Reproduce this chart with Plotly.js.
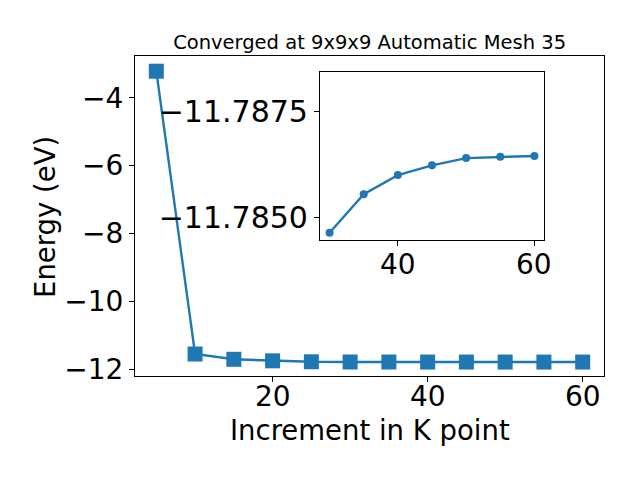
<!DOCTYPE html>
<html>
<head>
<meta charset="utf-8">
<script src="https://cdn.plot.ly/plotly-3.0.1.min.js"></script>
<style>html,body{margin:0;padding:0;background:#fff;}#chart{width:640px;height:480px;}</style>
</head>
<body>
<div id="chart"></div>
<script>
// Main series: k-point increment vs total energy
var kPoints = [5, 10, 15, 20, 25, 30, 35, 40, 45, 50, 55, 60];
var energies = [-3.22, -11.55, -11.705, -11.75, -11.778, -11.78465, -11.78556, -11.78601, -11.78624, -11.78641, -11.78644, -11.78646];

// Inset (zoomed) series
var insetK = [30, 35, 40, 45, 50, 55, 60];
var insetE = [-11.78465, -11.78556, -11.78601, -11.78624, -11.78641, -11.78644, -11.78646];

var mainYTicks = [-12, -10, -8, -6, -4];
var mainXTicks = [20, 40, 60];
var insetXTicks = [40, 60];
var insetYTicks = [-11.7875, -11.7850];

var titleText = 'Converged at 9x9x9 Automatic Mesh 35';
var xLabel = 'Increment in K point';
var yLabel = 'Energy (eV)';

var blue = '#1f77b4';
var fontFam = 'DejaVu Sans, sans-serif';

var traces = [
  {
    x: kPoints, y: energies, type: 'scatter', mode: 'lines+markers',
    line: {color: blue, width: 2.4},
    marker: {symbol: 'square', size: 15, color: blue},
    xaxis: 'x', yaxis: 'y', showlegend: false, hoverinfo: 'none'
  },
  {
    x: insetK, y: insetE, type: 'scatter', mode: 'lines+markers',
    line: {color: blue, width: 2.4},
    marker: {symbol: 'circle', size: 8, color: blue},
    xaxis: 'x2', yaxis: 'y2', showlegend: false, hoverinfo: 'none'
  }
];

function axisCommon(fs) {
  return {
    showgrid: false, zeroline: false, showline: true, linecolor: '#000', linewidth: 1.1,
    mirror: true, ticks: 'outside', ticklen: 5, tickwidth: 1.1, tickcolor: '#000',
    tickfont: {family: fontFam, size: fs, color: '#000'}
  };
}

var annotations = [];
mainXTicks.forEach(function (v) {
  annotations.push({xref: 'x', yref: 'paper', x: v, y: -0.0656, text: String(v),
    showarrow: false, xanchor: 'center', yanchor: 'middle',
    font: {family: fontFam, size: 28, color: '#000'}});
});
insetXTicks.forEach(function (v) {
  annotations.push({xref: 'x2', yref: 'paper', x: v, y: 0.35, text: String(v),
    showarrow: false, xanchor: 'center', yanchor: 'middle',
    font: {family: fontFam, size: 28, color: '#000'}});
});
annotations.push({xref: 'paper', yref: 'paper', x: 0.5, y: -0.169, text: xLabel,
  showarrow: false, xanchor: 'center', yanchor: 'middle',
  font: {family: fontFam, size: 27.5, color: '#000'}});
annotations.push({xref: 'paper', yref: 'paper', x: -0.1919, y: 0.497, text: yLabel,
  showarrow: false, xanchor: 'center', yanchor: 'middle', textangle: -90,
  font: {family: fontFam, size: 27.5, color: '#000'}});

var layout = {
  width: 640, height: 480,
  margin: {l: 135, r: 36, t: 56, b: 104},
  paper_bgcolor: '#fff', plot_bgcolor: 'rgba(0,0,0,0)',
  title: {text: titleText, font: {family: fontFam, size: 19.5, color: '#000'},
          x: 0.5775, xanchor: 'center', y: 0.912, yanchor: 'middle'},
  xaxis: Object.assign(axisCommon(28), {
    domain: [0, 1], range: [2.25, 62.75], tickvals: mainXTicks, showticklabels: false,
    automargin: false
  }),
  yaxis: Object.assign(axisCommon(28), {
    domain: [0, 1], range: [-12.197, -2.772], tickvals: mainYTicks,
    automargin: false
  }),
  xaxis2: Object.assign(axisCommon(28), {
    domain: [0.3945, 0.872], anchor: 'y2', range: [28.6, 61.4], tickvals: insetXTicks,
    showticklabels: false
  }),
  yaxis2: Object.assign(axisCommon(30), {
    domain: [0.425, 0.95], anchor: 'x2', range: [-11.78448, -11.78844],
    tickvals: insetYTicks, tickformat: '.4f'
  }),
  annotations: annotations,
  shapes: [
    {type: 'rect', xref: 'x2 domain', yref: 'y2 domain', x0: 0, x1: 1, y0: 0, y1: 1,
     fillcolor: '#fff', line: {width: 0}, layer: 'below'}
  ]
};

Plotly.newPlot('chart', traces, layout, {staticPlot: true, displayModeBar: false});
</script>
</body>
</html>
